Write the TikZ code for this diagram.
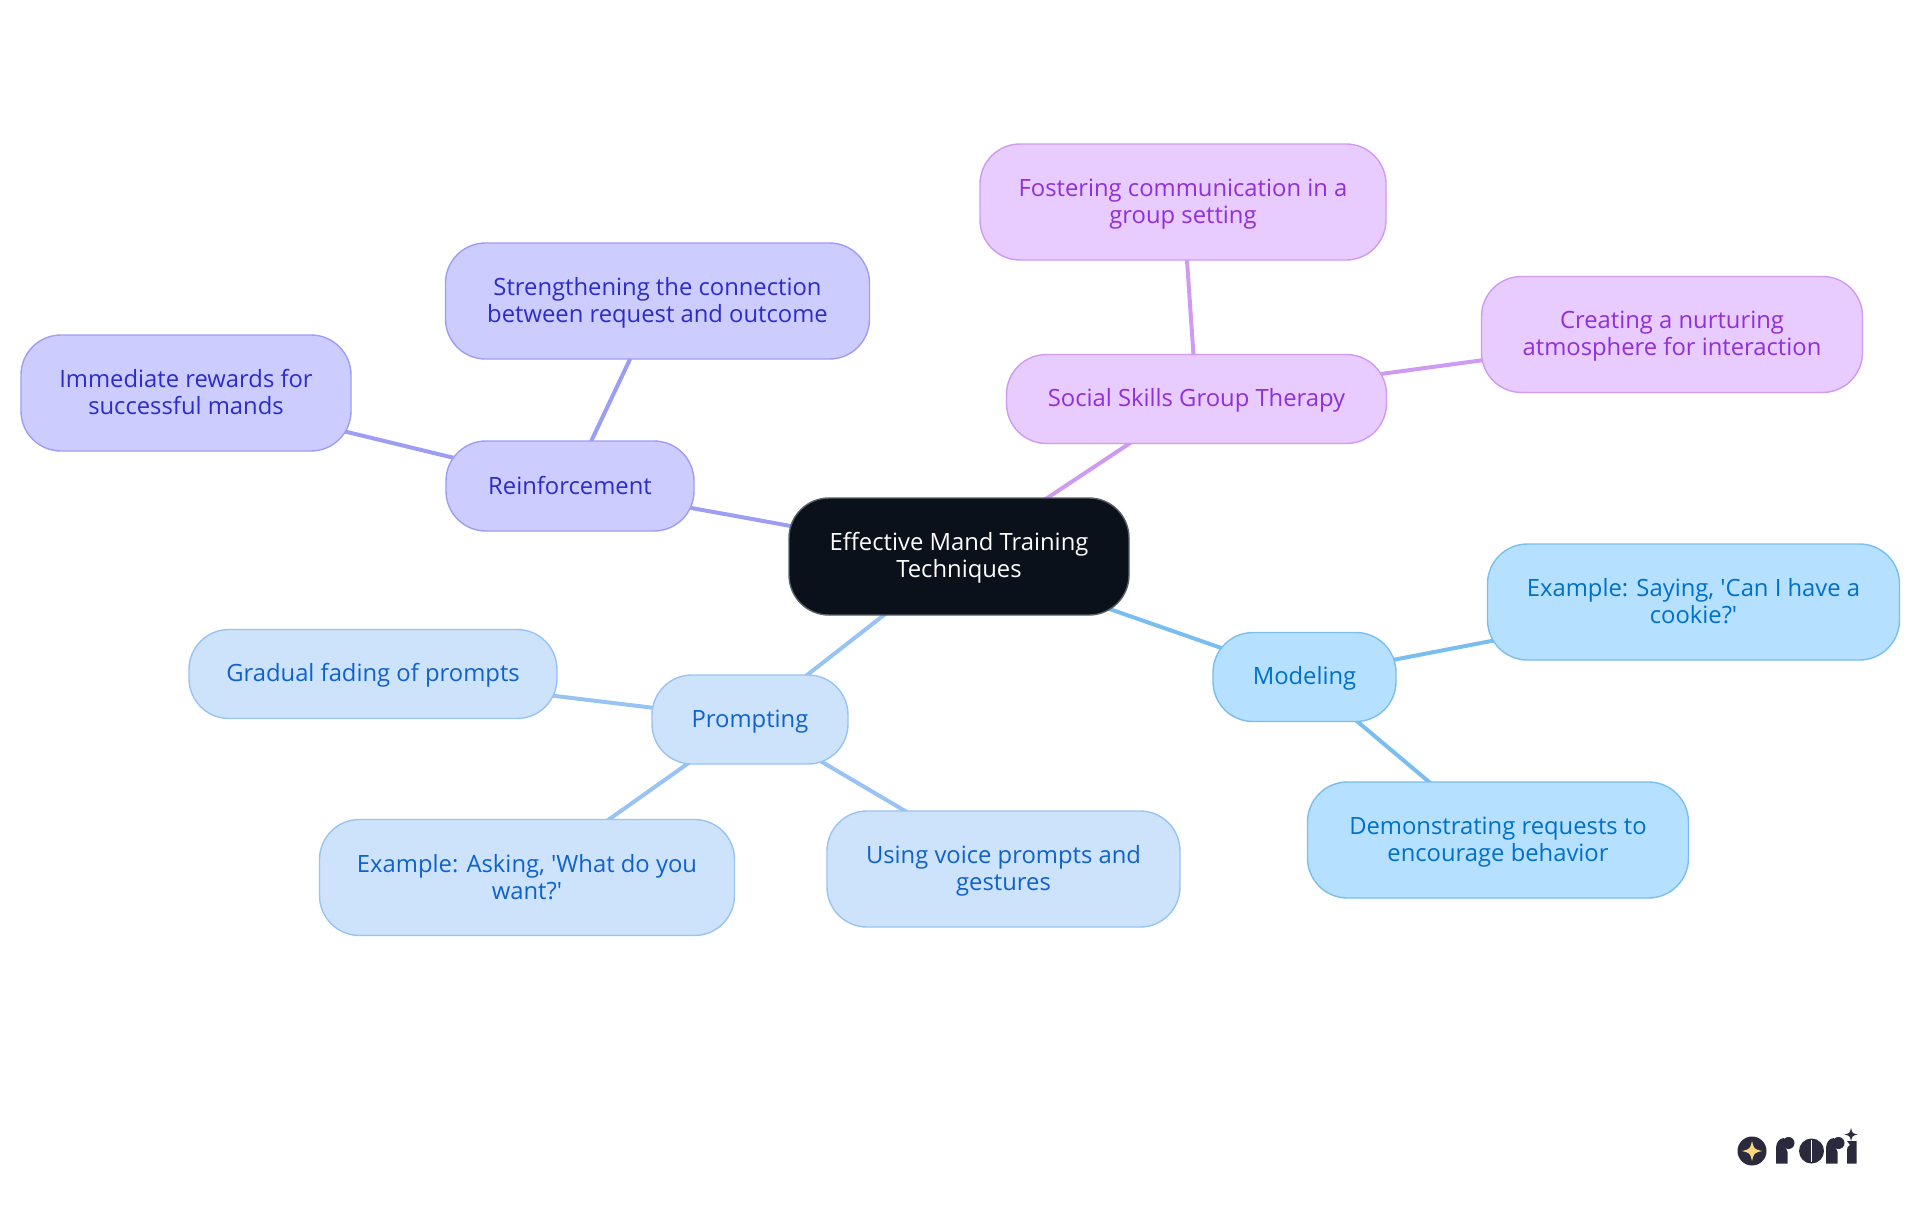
\documentclass[tikz,border=0pt]{standalone}
\usepackage{fontspec}
\setmainfont{Open Sans}
\usetikzlibrary{backgrounds}
\setlength{\lineskiplimit}{-100pt}
\definecolor{cFill}{HTML}{0B111A}\definecolor{cLine}{HTML}{5A5F66}
\definecolor{rFill}{HTML}{CCCCFF}\definecolor{rLine}{HTML}{9D9DF5}\definecolor{rText}{HTML}{2C2CC8}
\definecolor{sFill}{HTML}{E8CBFF}\definecolor{sLine}{HTML}{CF9BF2}\definecolor{sText}{HTML}{9030D8}
\definecolor{mFill}{HTML}{B5E0FF}\definecolor{mLine}{HTML}{7ABEF0}\definecolor{mText}{HTML}{0070C8}
\definecolor{pFill}{HTML}{CDE3FC}\definecolor{pLine}{HTML}{98C3F2}\definecolor{pText}{HTML}{0F62CC}
\definecolor{logoDark}{HTML}{2B2A3C}\definecolor{logoStar}{HTML}{FBD67F}
\newcommand{\st}{\rule[-5.5pt]{0pt}{27pt}}
\tikzset{
  mm/.style={rectangle,rounded corners=40pt,inner sep=0pt,line width=1.4pt,align=center,
    font=\fontsize{23.8}{27}\selectfont},
  central/.style={mm,fill=cFill,draw=cLine,text=white},
  rbox/.style={mm,fill=rFill,draw=rLine,text=rText},
  sbox/.style={mm,fill=sFill,draw=sLine,text=sText},
  mbox/.style={mm,fill=mFill,draw=mLine,text=mText},
  pbox/.style={mm,fill=pFill,draw=pLine,text=pText},
  redge/.style={line width=4pt,draw=rLine},
  sedge/.style={line width=4pt,draw=sLine},
  medge/.style={line width=4pt,draw=mLine},
  pedge/.style={line width=4pt,draw=pLine},
  size/.style n args={2}{minimum width=#1pt,minimum height=#2pt},
}
\newcommand{\logostar}[4]{\fill[#4] (#1,#2-#3) .. controls (#1+0.2*#3,#2-0.2*#3) .. (#1+#3,#2) .. controls (#1+0.2*#3,#2+0.2*#3) .. (#1,#2+#3) .. controls (#1-0.2*#3,#2+0.2*#3) .. (#1-#3,#2) .. controls (#1-0.2*#3,#2-0.2*#3) .. cycle;}
\begin{document}
\begin{tikzpicture}[x=1pt,y=-1pt]
\useasboundingbox (0,0) rectangle (1920,1215);
\node[central,size={340}{117}] (root) at (959,556.5) {\st Effective Mand Training\\\st Techniques};
\node[rbox,size={248}{90}] (reinf) at (570,486) {\st Reinforcement};
\node[rbox,size={424}{116}] (strength) at (657.5,301) {\st Strengthening the connection\\\st between request and outcome};
\node[rbox,size={330}{116}] (immed) at (186,393) {\st Immediate rewards for\\\st successful mands};
\node[sbox,size={380}{89}] (social) at (1196.5,399) {\st Social Skills Group Therapy};
\node[sbox,size={406}{116}] (foster) at (1183,202) {\st Fostering communication in a\\\st group setting};
\node[sbox,size={381}{116}] (create) at (1672,334.5) {\st Creating a nurturing\\\st atmosphere for interaction};
\node[mbox,size={183}{89}] (model) at (1304.5,677) {\st Modeling};
\node[mbox,size={412}{116}] (saying) at (1693.5,602) {\st Example: Saying, \textquotesingle Can I have a\\\st cookie?\textquotesingle};
\node[mbox,size={381}{116}] (demo) at (1498,840) {\st Demonstrating requests to\\\st encourage behavior};
\node[pbox,size={196}{89}] (prompt) at (750,719.5) {\st Prompting};
\node[pbox,size={368}{89}] (fade) at (373,674) {\st Gradual fading of prompts};
\node[pbox,size={415}{116}] (asking) at (527,877.5) {\st Example: Asking, \textquotesingle What do you\\\st want?\textquotesingle};
\node[pbox,size={353}{116}] (voice) at (1003.5,869) {\st Using voice prompts and\\\st gestures};
\begin{scope}[on background layer]
\draw[redge] (root.center) -- (reinf.center);
\draw[redge] (reinf.center) -- (strength.center);
\draw[redge] (reinf.center) -- (immed.center);
\draw[sedge] (root.center) -- (social.center);
\draw[sedge] (social.center) -- (foster.center);
\draw[sedge] (social.center) -- (create.center);
\draw[medge] (root.center) -- (model.center);
\draw[medge] (model.center) -- (saying.center);
\draw[medge] (model.center) -- (demo.center);
\draw[pedge] (root.center) -- (prompt.center);
\draw[pedge] (prompt.center) -- (fade.center);
\draw[pedge] (prompt.center) -- (asking.center);
\draw[pedge] (prompt.center) -- (voice.center);
\end{scope}
% logo
\fill[logoDark] (1752,1151) circle (14.5);
\logostar{1752}{1151}{10}{logoStar}
% r
\fill[logoDark] (1776,1163.5) -- (1776,1148) .. controls (1776,1142) and (1780,1138) .. (1784,1138) -- (1784,1146) .. controls (1786,1148) and (1787,1150) .. (1787.5,1152) -- (1787.5,1163.5) -- cycle;
\fill[logoDark] (1788.5,1143) circle (6);
% o
\fill[logoDark] (1811.5,1151) circle (12.5);
\fill[white] (1811,1140) rectangle (1812,1162);
% r
\fill[logoDark] (1826,1163.5) -- (1826,1148) .. controls (1826,1142) and (1830,1138) .. (1834,1138) -- (1834,1146) .. controls (1836,1148) and (1837,1150) .. (1837.5,1152) -- (1837.5,1163.5) -- cycle;
\fill[logoDark] (1838.5,1143) circle (6);
% i
\fill[logoDark] (1847,1141) -- (1856.5,1141) -- (1856.5,1163.5) -- (1847,1163.5) -- (1847,1150) .. controls (1847,1146) and (1850,1146) .. (1850,1145) -- cycle;
\logostar{1851}{1134.5}{6.5}{logoDark}
\end{tikzpicture}
\end{document}
